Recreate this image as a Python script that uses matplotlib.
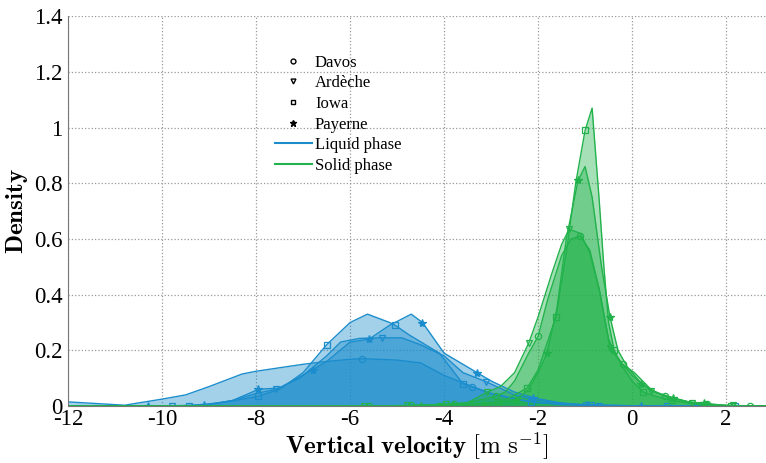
import numpy as np
import matplotlib
matplotlib.use('Agg')
from matplotlib import pyplot as plt
from matplotlib.lines import Line2D

plt.rcParams['font.family'] = ['Liberation Serif', 'DejaVu Serif']
plt.rcParams['mathtext.fontset'] = 'cm'
plt.rcParams['axes.unicode_minus'] = False

# liquid phase densities (vertical velocity in m/s)
davos_liq_x = [-12, -11.5, -10.8, -10.0, -9.5, -9.0, -8.3, -8.0, -7.0, -6.5, -6.0, -5.74,
               -5.0, -4.5, -4.0, -3.4, -3.0, -2.5, -2.0, -1.0, 0.0, 1.4, 2.9]
davos_liq_y = [0.015, 0.01, 0.003, 0.025, 0.04, 0.07, 0.115, 0.125, 0.15, 0.16, 0.168, 0.17,
               0.165, 0.155, 0.11, 0.07, 0.045, 0.025, 0.012, 0.004, 0.001, 0.0, 0.0]
davos_liq_mk = [-5.74, -3.4, -1.0, 1.4]

ardeche_liq_x = [-12, -9.8, -9.0, -8.5, -8.0, -7.58, -7.07, -6.5, -6.2, -5.8, -5.33, -4.9,
                 -4.5, -4.0, -3.6, -3.1, -2.5, -2.0, -1.2, -0.87, 0.6, 1.36, 2.9]
ardeche_liq_y = [0, 0, 0.005, 0.02, 0.045, 0.06, 0.1, 0.18, 0.23, 0.243, 0.245, 0.245,
                 0.22, 0.18, 0.12, 0.087, 0.04, 0.02, 0.006, 0.003, 0.0, 0.0, 0]
ardeche_liq_mk = [-9.8, -7.58, -5.33, -3.1, -0.87, 1.36]

iowa_liq_x = [-12, -10.0, -9.43, -9.0, -8.5, -7.96, -7.5, -7.0, -6.5, -6.0, -5.63, -5.16,
              -5.04, -4.74, -4.1, -3.6, -3.0, -2.15, -1.5, -0.7, 0.75, 2.2, 2.9]
iowa_liq_y = [0, 0, 0.001, 0.008, 0.018, 0.035, 0.06, 0.12, 0.22, 0.30, 0.33, 0.30,
              0.29, 0.255, 0.19, 0.08, 0.045, 0.015, 0.005, 0.0, 0.0, 0.0, 0]
iowa_liq_mk = [-9.43, -7.96, -6.5, -5.04, -3.6, -2.15, -0.7, 0.75, 2.2]

payerne_liq_x = [-12, -10.3, -9.1, -8.5, -7.95, -7.5, -6.8, -6.5, -6.0, -5.6, -5.16, -4.7,
                 -4.46, -4.0, -3.3, -3.0, -2.5, -2.1, -1.5, -0.95, 0.2, 1.4, 2.9]
payerne_liq_y = [0, 0, 0.003, 0.02, 0.06, 0.065, 0.13, 0.16, 0.23, 0.24, 0.29, 0.33,
                 0.30, 0.19, 0.12, 0.09, 0.05, 0.03, 0.01, 0.004, 0.0, 0.0, 0]
payerne_liq_mk = [-10.3, -9.1, -7.95, -6.8, -5.6, -4.46, -3.3, -2.1, -0.95, 0.2, 1.4]

# solid phase densities
davos_sol_x = [-12, -6.0, -5.6, -4.7, -3.8, -3.5, -2.9, -2.7, -2.5, -2.2, -2.0, -1.8, -1.5,
               -1.3, -1.1, -0.9, -0.7, -0.5, -0.35, -0.2, 0.05, 0.4, 0.7, 1.2, 1.6, 2.0, 2.5, 2.9]
davos_sol_y = [0, 0, 0, 0.002, 0.007, 0.012, 0.035, 0.05, 0.09, 0.19, 0.25, 0.38, 0.54,
               0.6, 0.61, 0.56, 0.42, 0.24, 0.185, 0.15, 0.12, 0.06, 0.035, 0.015, 0.006, 0.002, 0, 0]
davos_sol_mk = [-5.6, -4.7, -3.8, -2.9, -2.0, -1.1, -0.2, 0.7, 1.6, 2.5]

ardeche_sol_x = [-12, -6.0, -5.7, -4.8, -3.95, -3.5, -3.08, -2.8, -2.5, -2.2, -2.0, -1.7,
                 -1.5, -1.34, -1.1, -0.9, -0.7, -0.47, -0.3, 0.0, 0.4, 0.8, 1.27, 1.6, 2.14, 2.9]
ardeche_sol_y = [0, 0, 0, 0.002, 0.006, 0.012, 0.05, 0.07, 0.12, 0.226, 0.32, 0.48,
                 0.58, 0.635, 0.62, 0.55, 0.42, 0.21, 0.17, 0.11, 0.055, 0.03, 0.012, 0.006, 0.002, 0]
ardeche_sol_mk = [-5.7, -4.8, -3.95, -3.08, -2.2, -1.34, -0.47, 0.4, 1.27, 2.14]

iowa_sol_x = [-12, -4.5, -4.09, -3.47, -2.85, -2.6, -2.23, -2.0, -1.8, -1.62, -1.4, -1.2,
              -1.0, -0.85, -0.7, -0.6, -0.5, -0.38, -0.2, 0.0, 0.24, 0.5, 0.86, 1.2, 1.48,
              1.8, 2.1, 2.9]
iowa_sol_y = [0, 0, 0.001, 0.005, 0.015, 0.03, 0.065, 0.13, 0.23, 0.32, 0.55, 0.8,
              0.99, 1.07, 0.74, 0.5, 0.3, 0.2, 0.14, 0.09, 0.05, 0.035, 0.02, 0.01, 0.005,
              0.002, 0, 0]
iowa_sol_mk = [-4.09, -3.47, -2.85, -2.23, -1.62, -1.0, -0.38, 0.24, 0.86, 1.48, 2.1]

payerne_sol_x = [-12, -5.0, -4.49, -3.82, -3.15, -2.48, -2.2, -2.0, -1.81, -1.6, -1.4, -1.15,
                 -1.0, -0.85, -0.65, -0.47, -0.3, -0.1, 0.2, 0.5, 0.87, 1.2, 1.54, 2.0, 2.9]
payerne_sol_y = [0, 0, 0.001, 0.003, 0.008, 0.02, 0.06, 0.12, 0.19, 0.35, 0.6, 0.81,
                 0.86, 0.75, 0.5, 0.32, 0.2, 0.14, 0.08, 0.05, 0.03, 0.015, 0.01, 0.002, 0]
payerne_sol_mk = [-4.49, -3.82, -3.15, -2.48, -1.81, -1.15, -0.47, 0.2, 0.87, 1.54]

sites = ['Davos', 'Ardèche', 'Iowa', 'Payerne']
markers = {'Davos': 'o', 'Ardèche': 'v', 'Iowa': 's', 'Payerne': '*'}

liquid = [(davos_liq_x, davos_liq_y, davos_liq_mk),
          (ardeche_liq_x, ardeche_liq_y, ardeche_liq_mk),
          (iowa_liq_x, iowa_liq_y, iowa_liq_mk),
          (payerne_liq_x, payerne_liq_y, payerne_liq_mk)]
solid = [(davos_sol_x, davos_sol_y, davos_sol_mk),
         (ardeche_sol_x, ardeche_sol_y, ardeche_sol_mk),
         (iowa_sol_x, iowa_sol_y, iowa_sol_mk),
         (payerne_sol_x, payerne_sol_y, payerne_sol_mk)]

blue = '#1b8dcc'
green = '#21b24b'

fig = plt.figure(figsize=(7.66, 4.63), dpi=100)
ax = fig.add_axes([0.089, 0.123, 0.911, 0.842])


def draw_phase(curves, color):
    for site, (x, y, mk) in zip(sites, curves):
        x = np.asarray(x)
        y = np.asarray(y)
        idx = np.flatnonzero(np.isin(x, mk))
        ax.fill_between(x, y, 0, color=color, alpha=0.4, lw=0)
        m = markers[site]
        ax.plot(x, y, color=color, lw=1.0, marker=m, markevery=list(idx),
                ms=6 if m == '*' else 4.5,
                mfc=color if m == '*' else 'none', mec=color, mew=0.9)


draw_phase(liquid, blue)
draw_phase(solid, green)

ax.set_xlim(-12, 2.85)
ax.set_ylim(0, 1.4)
ax.set_xticks(np.arange(-12, 3, 2))
ax.set_xticklabels([str(v) for v in range(-12, 3, 2)])
ax.set_yticks(np.arange(0, 1.41, 0.2))
ax.set_yticklabels(['0', '0.2', '0.4', '0.6', '0.8', '1', '1.2', '1.4'])
ax.tick_params(length=0, labelsize=16.5)
ax.tick_params(axis='x', pad=2)
ax.tick_params(axis='y', pad=4)
ax.grid(True, linestyle=':', color='#999999', lw=0.9)
ax.set_axisbelow(True)
for s in ['top', 'right']:
    ax.spines[s].set_visible(False)
for s in ['left', 'bottom']:
    ax.spines[s].set_color('#777777')

ax.set_xlabel(r'$\mathbf{Vertical\ velocity}\ \mathrm{[m\ s^{-1}]}$', fontsize=18, labelpad=0.5)
ax.set_ylabel(r'$\mathbf{Density}$', fontsize=18, labelpad=3)

handles = [Line2D([], [], ls='none', marker=markers[s], color='black',
                  ms=5 if markers[s] == '*' else 3.5,
                  mfc='black' if markers[s] == '*' else 'none')
           for s in sites]
handles += [Line2D([], [], color=blue, lw=1.5), Line2D([], [], color=green, lw=1.5)]
labels = sites + ['Liquid phase', 'Solid phase']
fig.legend(handles, labels, loc='upper left', bbox_to_anchor=(0.348, 0.9),
           frameon=False, fontsize=12, handlelength=2.2, handletextpad=0.2,
           labelspacing=0.28, borderpad=0)

fig.savefig('out.png', dpi=100)
